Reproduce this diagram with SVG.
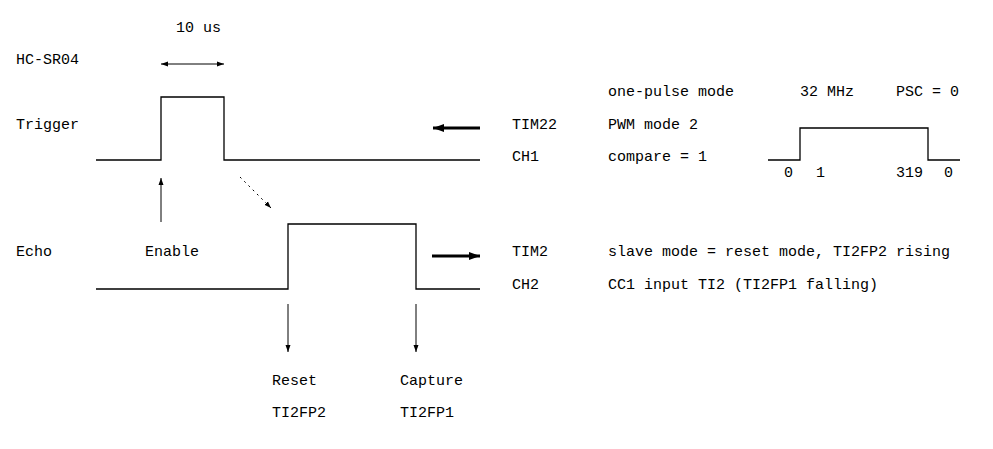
<svg xmlns="http://www.w3.org/2000/svg" width="993" height="449" viewBox="0 0 993 449">
<style>
text{font-family:"Liberation Mono","Courier New",monospace;font-size:15px;fill:#000}
.w{fill:none;stroke:#000;stroke-width:1.3}
.a{fill:none;stroke:#000;stroke-width:1}
.t{fill:none;stroke:#000;stroke-width:3}
.d{fill:none;stroke:#000;stroke-width:1;stroke-dasharray:2 4}
</style>
<defs>
<marker id="ah" markerWidth="8" markerHeight="6" refX="7" refY="3" orient="auto" markerUnits="userSpaceOnUse"><path d="M0,0.5 L7,3 L0,5.5 Z" fill="#000"/></marker>
<marker id="as" markerWidth="8" markerHeight="6" refX="0" refY="3" orient="auto" markerUnits="userSpaceOnUse"><path d="M7,0.5 L0,3 L7,5.5 Z" fill="#000"/></marker>
<marker id="th" markerWidth="12" markerHeight="10" refX="11" refY="5" orient="auto" markerUnits="userSpaceOnUse"><path d="M0,1 L11,5 L0,9 Z" fill="#000"/></marker>
</defs>
<g id="labels">
<text x="176" y="32">10 us</text>
<text x="16" y="64">HC-SR04</text>
<text x="16" y="129">Trigger</text>
<text x="16" y="256">Echo</text>
<text x="145" y="256">Enable</text>
</g>
<g id="trigger-wave"><path class="w" d="M96,160 H161 V97 H224 V160 H480"/></g>
<g id="echo-wave"><path class="w" d="M96,289 H288 V224 H416 V289 H480"/></g>
<g id="counter-wave"><path class="w" d="M768,160 H800 V128 H928 V160 H960"/></g>
<g id="tim22">
<text x="512" y="129">TIM22</text>
<text x="512" y="161">CH1</text>
<text x="608" y="96">one-pulse mode</text>
<text x="608" y="129">PWM mode 2</text>
<text x="608" y="161">compare = 1</text>
<text x="800" y="96">32 MHz</text>
<text x="896" y="96">PSC = 0</text>
<text x="784" y="177">0</text>
<text x="816" y="177">1</text>
<text x="896" y="177">319</text>
<text x="944" y="177">0</text>
</g>
<g id="tim2">
<text x="512" y="256">TIM2</text>
<text x="512" y="289">CH2</text>
<text x="608" y="256">slave mode = reset mode, TI2FP2 rising</text>
<text x="608" y="289">CC1 input TI2 (TI2FP1 falling)</text>
</g>
<g id="reset"><text x="272" y="385">Reset</text><text x="272" y="417">TI2FP2</text></g>
<g id="capture"><text x="400" y="385">Capture</text><text x="400" y="417">TI2FP1</text></g>
<g id="connectors">
<line class="a" x1="161" y1="64" x2="224" y2="64" marker-start="url(#as)" marker-end="url(#ah)"/>
<line class="a" x1="161" y1="222" x2="161" y2="178" marker-end="url(#ah)"/>
<line class="d" x1="240" y1="177" x2="271" y2="208" marker-end="url(#ah)"/>
<line class="t" x1="480" y1="128" x2="433" y2="128" marker-end="url(#th)"/>
<line class="t" x1="432" y1="256" x2="480" y2="256" marker-end="url(#th)"/>
<line class="a" x1="288" y1="304" x2="288" y2="352" marker-end="url(#ah)"/>
<line class="a" x1="416" y1="304" x2="416" y2="352" marker-end="url(#ah)"/>
</g>
</svg>
